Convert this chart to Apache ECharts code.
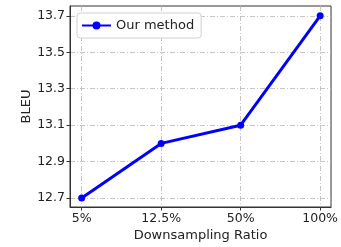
<!DOCTYPE html>
<html>
<head>
<meta charset="utf-8">
<script src="https://cdn.jsdelivr.net/npm/echarts@6/dist/echarts.min.js"></script>
<style>
  html, body { margin: 0; padding: 0; background: #fff; }
  #chart { width: 341px; height: 247px; }
</style>
</head>
<body>
<div id="chart"></div>
<script>
var ratios = ['5%', '12.5%', '50%', '100%'];
var bleu = [12.7, 13.0, 13.1, 13.7];
var yTicks = [12.7, 12.9, 13.1, 13.3, 13.5, 13.7];

var chart = echarts.init(document.getElementById('chart'));
var font = 'DejaVu Sans';
var gridLine = { show: true, lineStyle: { color: '#b8b8b8', width: 0.8, type: [5, 2, 1, 2] } };

var option = {
  animation: false,
  textStyle: { fontFamily: font },
  grid: {
    left: 70, right: 7, top: 6, bottom: 38,
    show: true, borderColor: '#333', borderWidth: 1
  },
  legend: {
    left: 77, top: 13,
    padding: [6, 7, 6, 4],
    itemWidth: 29, itemHeight: 10, itemGap: 6,
    backgroundColor: '#fff',
    borderColor: '#d0d0d0', borderWidth: 1, borderRadius: 3,
    textStyle: { fontFamily: font, fontSize: 13, color: '#222' },
    data: ['Our method']
  },
  xAxis: {
    type: 'value',
    min: -0.147, max: 3.137,
    name: 'Downsampling Ratio',
    nameLocation: 'middle', nameGap: 22, nameMoveOverlap: false,
    nameTextStyle: { fontFamily: font, fontSize: 13, color: '#222' },
    axisLine: { show: true, onZero: false, lineStyle: { color: '#333', width: 1 } },
    axisTick: { show: true, length: 3.5, customValues: [0, 1, 2, 3], lineStyle: { color: '#333' } },
    axisLabel: {
      customValues: [0, 1, 2, 3],
      margin: 5, fontSize: 12.5, color: '#222', fontFamily: font,
      formatter: function (v) { return ratios[Math.round(v)]; }
    },
    splitLine: gridLine
  },
  yAxis: {
    type: 'value',
    min: 12.651, max: 13.754,
    name: 'BLEU',
    nameLocation: 'middle', nameGap: 37, nameMoveOverlap: false,
    nameTextStyle: { fontFamily: font, fontSize: 13, color: '#222' },
    axisLine: { show: true, onZero: false, lineStyle: { color: '#333', width: 1 } },
    axisTick: { show: true, length: 3.5, customValues: yTicks, lineStyle: { color: '#333' } },
    axisLabel: {
      customValues: yTicks,
      margin: 5, fontSize: 12.5, color: '#222', fontFamily: font,
      formatter: function (v) { return v.toFixed(1); }
    },
    splitLine: gridLine
  },
  series: [{
    name: 'Our method',
    type: 'line',
    data: bleu.map(function (v, i) { return [i, v]; }),
    symbol: 'circle', symbolSize: 7,
    lineStyle: { color: '#0000ff', width: 3 },
    itemStyle: { color: '#0000ff' }
  }]
};
chart.setOption(option);
</script>
</body>
</html>
